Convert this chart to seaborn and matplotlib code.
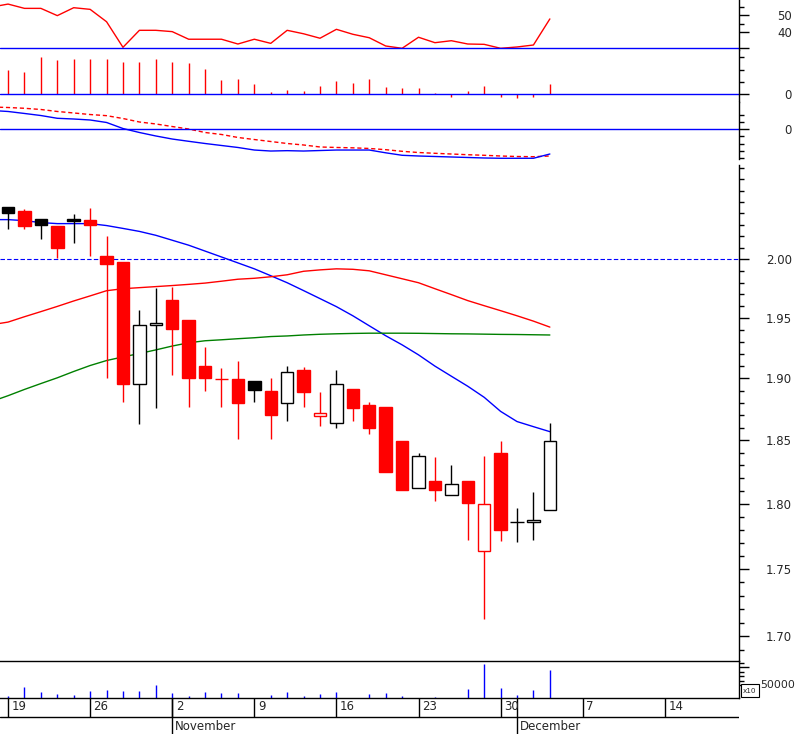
import matplotlib
matplotlib.use("Agg")
import matplotlib.pyplot as plt
from matplotlib.patches import Rectangle
from matplotlib.ticker import FixedLocator, NullFormatter, StrMethodFormatter
import numpy as np
import seaborn as sns

# trading days 19 Oct - 3 Dec (index 0 = Mon 19 Oct), lines start one day earlier
days = list(range(34))
line_days = list(range(-1, 34))

opens = [2.046, 2.042, 2.035, 2.029, 2.035, 2.0345, 2.003, 1.998, 1.895, 1.9445,
         1.9655, 1.948, 1.910, 1.8995, 1.8995, 1.898, 1.890, 1.880, 1.907, 1.8695,
         1.864, 1.891, 1.878, 1.877, 1.849, 1.812, 1.8175, 1.807, 1.818, 1.7635,
         1.840, 1.7856, 1.7862, 1.795]
highs = [2.046, 2.044, 2.035, 2.029, 2.039, 2.045, 2.020, 1.998, 1.957, 1.975,
         1.976, 1.948, 1.926, 1.9086, 1.914, 1.898, 1.900, 1.910, 1.909, 1.8885,
         1.907, 1.891, 1.881, 1.877, 1.849, 1.840, 1.837, 1.830, 1.818, 1.8375,
         1.849, 1.7964, 1.809, 1.864]
lows = [2.026, 2.026, 2.018, 2.001, 2.014, 2.003, 1.900, 1.881, 1.863, 1.876,
        1.903, 1.877, 1.890, 1.8766, 1.851, 1.881, 1.851, 1.865, 1.877, 1.861,
        1.860, 1.865, 1.855, 1.825, 1.811, 1.812, 1.802, 1.807, 1.772, 1.7125,
        1.7715, 1.7702, 1.772, 1.795]
closes = [2.040, 2.029, 2.030, 2.010, 2.033, 2.0295, 1.996, 1.895, 1.9445, 1.9455,
          1.9405, 1.9005, 1.900, 1.8995, 1.880, 1.8905, 1.870, 1.9055, 1.889, 1.8715,
          1.895, 1.876, 1.860, 1.825, 1.811, 1.8375, 1.811, 1.815, 1.8005, 1.7995,
          1.780, 1.7856, 1.7874, 1.849]
prev_close = 2.030

volume = [8700, 42500, 23700, 16200, 12400, 27400, 32300, 27400, 27400, 50000,
          19900, 8700, 23700, 19900, 19900, 800, 12400, 23700, 8700, 16200,
          23700, 800, 16200, 19900, 8700, 800, 4900, 800, 35000, 129000,
          38700, 12400, 31200, 106400]

ma_short = [2.0345, 2.0345, 2.0336, 2.0319, 2.031, 2.031, 2.031, 2.0293, 2.0268, 2.0242,
            2.0208, 2.0165, 2.0122, 2.0071, 2.002, 1.9969, 1.9918, 1.9859, 1.9799, 1.9732,
            1.9664, 1.9596, 1.9519, 1.9435, 1.9352, 1.9276, 1.9193, 1.910, 1.9017, 1.8935,
            1.8845, 1.8731, 1.8649, 1.8608, 1.8568]
ma_mid = [1.9444, 1.9466, 1.9511, 1.9554, 1.9598, 1.9644, 1.9687, 1.9731, 1.9748, 1.9757,
          1.9766, 1.9775, 1.9785, 1.9796, 1.9812, 1.9829, 1.9837, 1.9850, 1.9867, 1.9897,
          1.9909, 1.9918, 1.9914, 1.9901, 1.9867, 1.9833, 1.9799, 1.9748, 1.9698, 1.9647,
          1.9604, 1.9562, 1.9519, 1.9474, 1.9424]
ma_long = [1.8811, 1.8858, 1.8909, 1.8957, 1.9004, 1.9056, 1.9105, 1.9146, 1.9176, 1.9204,
           1.9234, 1.9266, 1.9293, 1.9310, 1.9318, 1.9327, 1.9335, 1.9345, 1.9350, 1.9358,
           1.9364, 1.9368, 1.9371, 1.9373, 1.9373, 1.9373, 1.9372, 1.9370, 1.9368, 1.9367,
           1.9365, 1.9363, 1.9362, 1.9360, 1.9358]

rsi = [55.0, 56.8, 54.2, 54.2, 49.8, 54.6, 53.6, 46.1, 30.6, 40.9,
       40.9, 40.1, 35.5, 35.5, 35.5, 32.6, 35.5, 33.0, 40.9, 38.8,
       36.1, 41.5, 38.5, 36.4, 31.4, 30.0, 36.7, 33.4, 34.6, 32.6,
       32.4, 30.0, 30.8, 32.0, 47.8]

hist = [1.96, 1.80, 3.01, 2.82, 2.90, 2.90, 2.90, 2.60, 2.60, 2.90,
        2.60, 2.52, 2.04, 1.13, 1.21, 0.83, 0.19, 0.35, 0.27, 0.67,
        1.07, 0.91, 1.23, 0.59, 0.51, 0.51, 0.10, -0.24, 0.27, 0.67,
        -0.19, -0.27, -0.19, 0.83]

macd = [2.65, 2.51, 2.23, 1.94, 1.55, 1.45, 1.31, 0.96, 0.11, -0.45,
        -0.94, -1.37, -1.69, -2.00, -2.28, -2.56, -2.92, -3.06, -3.01, -3.06,
        -2.99, -2.92, -2.92, -2.92, -3.31, -3.66, -3.76, -3.83, -3.90, -3.97,
        -4.04, -4.08, -4.08, -4.08, -3.48]
signal = [3.14, 3.07, 2.96, 2.79, 2.51, 2.30, 2.08, 1.92, 1.52, 1.03,
          0.75, 0.39, 0.04, -0.45, -0.73, -1.15, -1.44, -1.72, -2.00, -2.21,
          -2.49, -2.56, -2.61, -2.70, -2.87, -3.10, -3.27, -3.38, -3.48, -3.58,
          -3.66, -3.76, -3.83, -3.86, -3.76]

week_pos = [0, 5, 10, 15, 20, 25, 30, 35, 40]
week_labels = ["19", "26", "2", "9", "16", "23", "30", "7", "14"]
month_pos = [10, 31]
month_labels = ["November", "December"]
price_labels = [1.70, 1.75, 1.80, 1.85, 1.90, 1.95, 2.00]

RED, BLUE, GREEN, BLACK = "#ff0000", "#0000ff", "#008000", "#000000"
W, H = 796, 734
XMIN, XMAX = -0.49, 44.52

sns.set_style("white")
plt.rcParams["font.family"] = ["DejaVu Sans"]
plt.rcParams["font.size"] = 8.5

fig = plt.figure(figsize=(W / 100, H / 100), dpi=100)


def panel(top, bottom):
    # axes placed by pixel rows of the original chart
    return fig.add_axes([0, 1 - bottom / H, 739 / W, (bottom - top) / H])


def right_axis(ax):
    for s in ["left", "top", "bottom"]:
        ax.spines[s].set_visible(False)
    ax.spines["right"].set_linewidth(1.0)
    ax.spines["right"].set_color(BLACK)
    ax.yaxis.tick_right()
    ax.tick_params(axis="y", which="major", length=7.2, width=1.0, pad=31,
                   labelsize=8.5, direction="out", color=BLACK)
    ax.tick_params(axis="y", which="minor", length=3.6, width=1.0,
                   direction="out", color=BLACK)
    ax.tick_params(axis="x", which="both", bottom=False, labelbottom=False)
    ax.set_xlim(XMIN, XMAX)
    ax.set_xlabel("")
    ax.set_ylabel("")
    ax.grid(False)


# RSI panel
ax1 = panel(0, 50)
sns.lineplot(x=line_days, y=rsi, ax=ax1, color=RED, linewidth=1.0)
ax1.axhline(30, color=BLUE, lw=1.0)
ax1.set_ylim(28.97, 59.27)
right_axis(ax1)
ax1.yaxis.set_major_locator(FixedLocator([30, 40, 50]))
ax1.yaxis.set_major_formatter(StrMethodFormatter("{x:.0f}"))
ax1.yaxis.set_minor_locator(FixedLocator([45, 55]))
ax1.set_yticklabels(["", "40", "50"])

# histogram panel
ax2 = panel(50, 102)
ax2.vlines(days, 0, hist, color=RED, lw=1.0)
ax2.axhline(0, color=BLUE, lw=1.0)
ax2.set_ylim(-0.626, 3.6)
right_axis(ax2)
ax2.yaxis.set_major_locator(FixedLocator([0]))
ax2.yaxis.set_major_formatter(StrMethodFormatter("{x:.0f}"))
ax2.yaxis.set_minor_locator(FixedLocator([1, 2, 3]))

# MACD panel
ax3 = panel(102, 159)
sns.lineplot(x=line_days, y=signal, ax=ax3, color=RED, linewidth=1.0,
             linestyle=(0, (3, 2)))
sns.lineplot(x=line_days, y=macd, ax=ax3, color=BLUE, linewidth=1.0)
ax3.axhline(0, color=BLUE, lw=1.0)
ax3.set_ylim(-4.183, 3.845)
right_axis(ax3)
ax3.yaxis.set_major_locator(FixedLocator([0]))
ax3.yaxis.set_major_formatter(StrMethodFormatter("{x:.0f}"))
ax3.yaxis.set_minor_locator(FixedLocator([-4, -3, -2, -1, 1, 2]))

# price panel
ax = panel(165, 661)
ax.set_yscale("log")
sns.lineplot(x=line_days, y=ma_short, ax=ax, color=BLUE, linewidth=1.0)
sns.lineplot(x=line_days, y=ma_mid, ax=ax, color=RED, linewidth=1.0)
sns.lineplot(x=line_days, y=ma_long, ax=ax, color=GREEN, linewidth=1.0)
ax.axhline(2.00, color=BLUE, lw=0.8, ls=(0, (4, 2)))
for i in days:
    o, h, l, c = opens[i], highs[i], lows[i], closes[i]
    before = prev_close if i == 0 else closes[i - 1]
    col = RED if c < before else BLACK
    ax.vlines(i, l, h, color=col, lw=1.0, zorder=3)
    if c == o:
        ax.hlines(c, i - 0.42, i + 0.42, color=col, lw=1.0, zorder=4)
    else:
        face = col if c < o else "white"
        ax.bar(i, abs(c - o), bottom=min(o, c), width=0.76, color=face,
               edgecolor=col, linewidth=1.0, zorder=4)
ax.set_ylim(1.68202, 2.08297)
right_axis(ax)
ax.yaxis.set_major_locator(FixedLocator(price_labels))
ax.yaxis.set_major_formatter(StrMethodFormatter("{x:.2f}"))
ax.yaxis.set_minor_locator(FixedLocator(np.round(np.arange(1.69, 2.085, 0.01), 2)))
ax.yaxis.set_minor_formatter(NullFormatter())

# volume panel
axv = panel(661, 698.3)
axv.vlines(days, 0, volume, color=BLUE, lw=1.0)
axv.set_ylim(0, 140226)
right_axis(axv)
axv.spines["top"].set_visible(True)
axv.spines["bottom"].set_visible(True)
for s in ["top", "bottom"]:
    axv.spines[s].set_linewidth(1.0)
    axv.spines[s].set_color(BLACK)
axv.yaxis.set_major_locator(FixedLocator([50000, 116667]))
axv.yaxis.set_major_formatter(NullFormatter())
axv.yaxis.set_minor_locator(FixedLocator([66667, 83333, 100000, 133333]))

# date band
axd = fig.add_axes([0, 0, 739 / W, (734 - 698.3) / H])
axd.set_xlim(XMIN, XMAX)
axd.set_ylim(734, 698.3)
axd.axis("off")
axd.axhline(717, color=BLACK, lw=1.0)
axd.vlines(week_pos, 698.3, 717, color=BLACK, lw=1.0)
for p, lab in zip(week_pos, week_labels):
    axd.text(p + 0.21, 707, lab, ha="left", va="center", fontsize=8.5)
axd.vlines(month_pos, 698.3, 734, color=BLACK, lw=1.0)
for p, lab in zip(month_pos, month_labels):
    axd.text(p + 0.15, 726.5, lab, ha="left", va="center", fontsize=8.5)

# volume multiplier label
fig.text(795 / W, 1 - 685 / H, "50000", ha="right", va="center", fontsize=7.8)
fig.add_artist(Rectangle((741 / W, 1 - 697 / H), 18 / W, 13 / H,
                         transform=fig.transFigure, fill=True, facecolor="white",
                         edgecolor=BLACK, lw=0.8))
fig.text(750 / W, 1 - 691 / H, "x10", ha="center", va="center", fontsize=5.2)

for a in [ax1, ax2, ax3, ax, axv]:
    for t in a.yaxis.get_major_ticks():
        t.label2.set_horizontalalignment("right")

fig.savefig("out.png", dpi=100, facecolor="white")
